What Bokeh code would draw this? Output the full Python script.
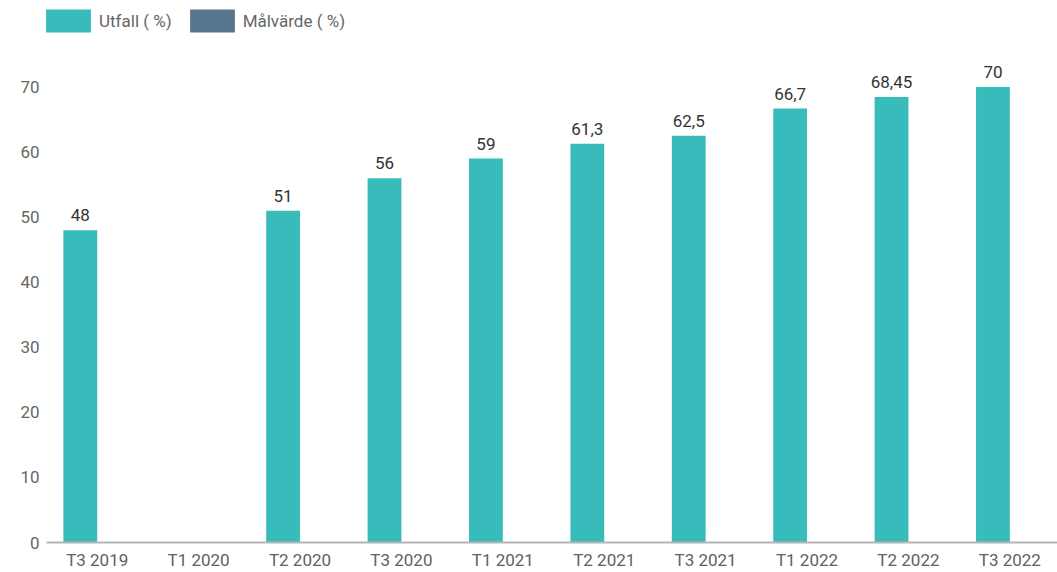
from bokeh.plotting import figure
from bokeh.models import (ColumnDataSource, Range1d, FixedTicker, Legend, LegendItem, LabelSet)
from bokeh.core.properties import value
from bokeh.transform import dodge
from bokeh.embed import file_html
from bokeh.resources import INLINE

# ---- data ----
categories = ["T3 2019", "T1 2020", "T2 2020", "T3 2020", "T1 2021",
              "T2 2021", "T3 2021", "T1 2022", "T2 2022", "T3 2022"]
utfall = [48, None, 51, 56, 59, 61.3, 62.5, 66.7, 68.45, 70]
utfall_labels = ["48", "", "51", "56", "59", "61,3", "62,5", "66,7", "68,45", "70"]
malvarde = [None] * 10
y_ticks = [0, 10, 20, 30, 40, 50, 60, 70]

BAR = "#37bbbb"
TARGET = "#58778f"
FONT = "Roboto"

idx = list(range(len(categories)))
src = ColumnDataSource(dict(
    x=idx,
    top=[float("nan") if v is None else v for v in utfall],
    lab=utfall_labels))
src2 = ColumnDataSource(dict(
    x=idx,
    top=[float("nan") if v is None else v for v in malvarde]))

p = figure(width=1057, height=572, output_backend="svg", toolbar_location=None,
           x_range=Range1d(-0.5, len(categories) - 0.53), y_range=Range1d(0, 83.3),
           min_border_left=46, min_border_right=0, min_border_top=0, min_border_bottom=27)
p.outline_line_color = None
p.xgrid.grid_line_color = None
p.ygrid.grid_line_color = None
p.background_fill_color = "white"
p.border_fill_color = "white"

r1 = p.vbar(x=dodge("x", -1/6, range=p.x_range), top="top", width=1/3, source=src,
            fill_color=BAR, line_color=None)
r2 = p.vbar(x=dodge("x", 1/6, range=p.x_range), top="top", width=1/3, source=src2,
            fill_color=TARGET, line_color=None)

labels = LabelSet(x=dodge("x", -1/6, range=p.x_range), y="top", text="lab", source=src,
                  text_align="center", text_baseline="bottom", y_offset=9,
                  text_font=value(FONT), text_font_size=value("17px"),
                  text_color="#333333")
p.add_layout(labels)

# axes
p.xaxis.ticker = FixedTicker(ticks=idx)
p.xaxis.major_label_overrides = {i: c for i, c in enumerate(categories)}
p.xaxis.major_tick_line_color = None
p.xaxis.major_tick_out = 0
p.xaxis.major_tick_in = 0
p.xaxis.minor_tick_line_color = None
p.xaxis.minor_tick_out = 0
p.xaxis.axis_line_color = "#b5b5b5"
p.xaxis.axis_line_width = 2
p.xaxis.major_label_standoff = 7
p.xaxis.major_label_text_font = FONT
p.xaxis.major_label_text_font_size = "17px"
p.xaxis.major_label_text_color = "#616161"

p.yaxis.ticker = FixedTicker(ticks=y_ticks)
p.yaxis.axis_line_color = None
p.yaxis.major_tick_line_color = None
p.yaxis.major_tick_out = 0
p.yaxis.major_tick_in = 0
p.yaxis.minor_tick_line_color = None
p.yaxis.minor_tick_out = 0
p.yaxis.major_label_standoff = 7
p.yaxis.major_label_text_font = FONT
p.yaxis.major_label_text_font_size = "17px"
p.yaxis.major_label_text_color = "#666666"

legend = Legend(items=[LegendItem(label="Utfall ( %)", renderers=[r1]),
                       LegendItem(label="Målvärde ( %)", renderers=[r2])],
                location=(-6, 507), orientation="horizontal",
                glyph_width=56, glyph_height=29, label_standoff=3, spacing=12,
                padding=0, margin=0, border_line_color=None, background_fill_alpha=0,
                label_text_font=FONT, label_text_font_size="17px",
                label_text_color="#666666", label_height=29)
p.add_layout(legend)

open("out.html", "w").write(file_html(p, INLINE))
